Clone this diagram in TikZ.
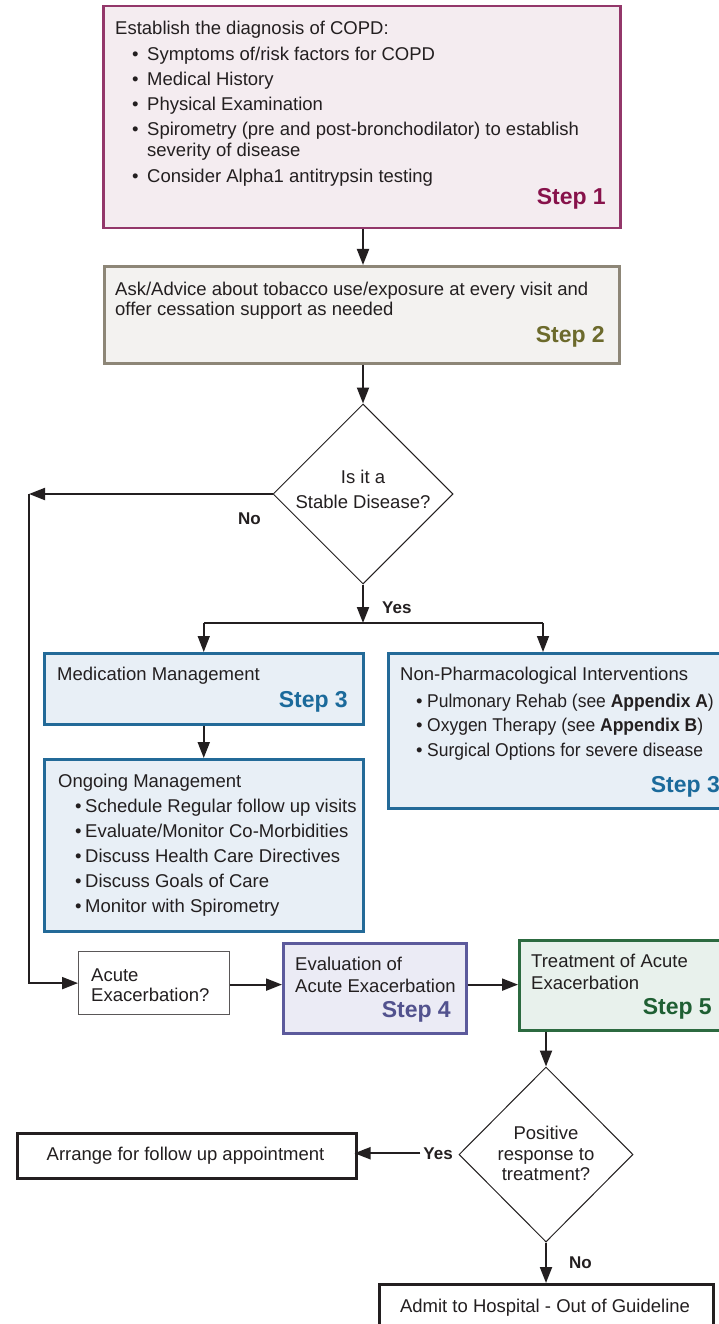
\documentclass[tikz,border=0pt]{standalone}
\usepackage{fontspec}
\setmainfont{Liberation Sans}
\usetikzlibrary{arrows.meta,shapes.geometric,calc}
\definecolor{ink}{HTML}{231F20}
\definecolor{oneB}{HTML}{93376A}
\definecolor{oneF}{HTML}{F4ECF0}
\definecolor{oneT}{HTML}{87124B}
\definecolor{twoB}{HTML}{8D8677}
\definecolor{twoF}{HTML}{F3F2F0}
\definecolor{twoT}{HTML}{6C6A2C}
\definecolor{thrB}{HTML}{236A98}
\definecolor{thrF}{HTML}{E8EFF6}
\definecolor{thrT}{HTML}{1B6A9B}
\definecolor{fouB}{HTML}{5C5A9C}
\definecolor{fouF}{HTML}{EBEBF5}
\definecolor{fouT}{HTML}{52528E}
\definecolor{fivB}{HTML}{2C6A40}
\definecolor{fivF}{HTML}{E8F1EC}
\definecolor{fivT}{HTML}{1F5F33}
\newcommand\blt[1]{\makebox[#1][l]{\textbullet}}
\newcommand\nar[1]{\scalebox{0.945}[1]{#1}}
\tikzset{
  box/.style={draw, line width=2.5pt, anchor=north west, inner sep=0pt},
  txt/.style={anchor=base west, inner sep=0pt, text=ink, font=\fontsize{18.5}{21}\selectfont},
  ctxt/.style={txt, anchor=base},
  steplbl/.style={anchor=base east, inner sep=0pt, font=\fontsize{23}{26}\selectfont\bfseries},
  yn/.style={inner sep=0pt, text=ink, font=\fontsize{17}{19}\selectfont\bfseries},
  conn/.style={line width=2pt, draw=ink, -{Triangle[length=16pt,width=12pt]}},
  connthin/.style={line width=1.5pt, draw=ink, -{Triangle[length=16pt,width=12pt]}},
  dia/.style={diamond, draw=ink, line width=1pt, inner sep=0pt},
}
\begin{document}
\begin{tikzpicture}[x=1pt,y=-1pt]
\path[use as bounding box, fill=white] (0,0) rectangle (719,1324);

% Step 1
\node[box, draw=oneB, fill=oneF, minimum width=517pt, minimum height=222pt] (s1) at (102,5) {};
\node[txt] (s1a) at (115,35) {Establish the diagnosis of COPD:};
\node[txt] (s1b) at (132,61) {\blt{15pt}Symptoms of/risk factors for COPD};
\node[txt] (s1c) at (132,86) {\blt{15pt}Medical History};
\node[txt] (s1d) at (132,111) {\blt{15pt}Physical Examination};
\node[txt] (s1e) at (132,136) {\blt{15pt}Spirometry (pre and post-bronchodilator) to establish};
\node[txt] (s1f) at (147,157) {severity of disease};
\node[txt] (s1g) at (132,183) {\blt{15pt}Consider Alpha1 antitrypsin testing};
\node[steplbl, text=oneT] (s1l) at (606,205) {Step 1};

% Step 2
\node[box, draw=twoB, fill=twoF, minimum width=515pt, minimum height=97pt] (s2) at (103,265) {};
\node[txt] (s2a) at (115,295) {Ask/Advice about tobacco use/exposure at every visit and};
\node[txt] (s2b) at (115,315) {offer cessation support as needed};
\node[steplbl, text=twoT] (s2l) at (605,342) {Step 2};

% Decision 1
\node[dia, minimum width=180pt, minimum height=180pt] (d1) at (363,494) {};
\node[ctxt] (d1a) at (363,483) {Is it a};
\node[ctxt] (d1b) at (363,508) {Stable Disease?};
\node[yn, anchor=base west] (no1) at (238,524) {No};
\node[yn, anchor=base west] (yes1) at (382,613) {Yes};
\coordinate (cornerL) at (29,494);
\coordinate (j) at (363,623);

% Step 3 boxes
\node[box, draw=thrB, fill=thrF, minimum width=319pt, minimum height=71pt] (med) at (43,652) {};
\node[txt] (meda) at (57,680) {Medication Management};
\node[steplbl, text=thrT] (medl) at (348,707) {Step 3};

\node[box, draw=thrB, fill=thrF, minimum width=319pt, minimum height=172pt] (ong) at (43,758) {};
\node[txt] (onga) at (58,787) {Ongoing Management};
\node[txt] (ongb) at (75,812) {\blt{10pt}Schedule Regular follow up visits};
\node[txt] (ongc) at (75,837) {\blt{10pt}Evaluate/Monitor Co-Morbidities};
\node[txt] (ongd) at (75,862) {\blt{10pt}Discuss Health Care Directives};
\node[txt] (onge) at (75,887) {\blt{10pt}Discuss Goals of Care};
\node[txt] (ongf) at (75,912) {\blt{10pt}Monitor with Spirometry};

\node[box, draw=thrB, fill=thrF, minimum width=350pt, minimum height=155pt] (np) at (387,652) {};
\node[txt] (npa) at (400,680) {Non-Pharmacological Interventions};
\node[txt] (npb) at (416,707) {\blt{11pt}\nar{Pulmonary Rehab (see \textbf{Appendix A})}};
\node[txt] (npc) at (416,731) {\blt{11pt}\nar{Oxygen Therapy (see \textbf{Appendix B})}};
\node[txt] (npd) at (416,756) {\blt{11pt}\nar{Surgical Options for severe disease}};
\node[steplbl, text=thrT] (npl) at (720,792) {Step 3};
\coordinate (jr) at (543,623);

% Acute row
\node[box, draw=ink!75, line width=1.2pt, fill=white, minimum width=151pt, minimum height=63pt] (acute) at (78,951) {};
\node[txt] (acutea) at (91,981) {Acute};
\node[txt] (acuteb) at (91,1001) {Exacerbation?};

\node[box, draw=fouB, fill=fouF, minimum width=183pt, minimum height=90pt] (eval) at (282,942) {};
\node[txt] (evala) at (295,970) {Evaluation of};
\node[txt] (evalb) at (295,992) {Acute Exacerbation};
\node[steplbl, text=fouT] (evall) at (451,1017) {Step 4};

\node[box, draw=fivB, fill=fivF, minimum width=220pt, minimum height=90pt] (treat) at (518,939) {};
\node[txt] (treata) at (531,967) {Treatment of Acute};
\node[txt] (treatb) at (531,989) {Exacerbation};
\node[steplbl, text=fivT] (treatl) at (712,1014) {Step 5};

% Decision 2
\node[dia, minimum width=174pt, minimum height=175pt] (d2) at (546,1154.5) {};
\node[ctxt] (d2a) at (546,1139) {Positive};
\node[ctxt] (d2b) at (546,1160) {response to};
\node[ctxt] (d2c) at (546,1180) {treatment?};
\node[yn, anchor=base east] (yes2) at (453,1159) {Yes};
\node[yn, anchor=base west] (no2) at (569,1268) {No};

\node[box, draw=ink, line width=2.5pt, fill=white, minimum width=339pt, minimum height=45pt] (arr) at (16,1132) {};
\node[ctxt] (arra) at (185.5,1160) {Arrange for follow up appointment};

\node[box, draw=ink, line width=2.5pt, fill=white, minimum width=334pt, minimum height=55pt] (adm) at (378,1283) {};
\node[ctxt] (adma) at (545,1312) {Admit to Hospital - Out of Guideline};

% Connectors
\draw[conn] (s1.south -| d1.north) -- (s2.north -| d1.north);
\draw[conn] (s2.south -| d1.north) -- (d1.north);
\draw[conn] (d1.west) -- (cornerL);
\draw[conn] (cornerL) |- (acute.west);
\draw[conn] (d1.south) -- (j);
\draw[line width=1.5pt, draw=ink] (med.north |- j) -- (jr);
\draw[connthin] (med.north |- j) -- (med.north);
\draw[connthin] (jr) -- (jr |- np.north);
\draw[conn] (med.south) -- (ong.north);
\draw[conn] ([yshift=-1.5pt]acute.east) -- ([yshift=-1.5pt]acute.east -| eval.west);
\draw[conn] ([yshift=-1.5pt]acute.east -| eval.east) -- ([yshift=-1.5pt]acute.east -| treat.west);
\draw[conn] (treat.south -| d2.north) -- (d2.north);
\draw[conn] ([xshift=-3pt]yes2.west) -- ([xshift=-3pt]yes2.west -| arr.east);
\draw[conn] (d2.south) -- (adm.north -| d2.south);
\end{tikzpicture}
\end{document}
